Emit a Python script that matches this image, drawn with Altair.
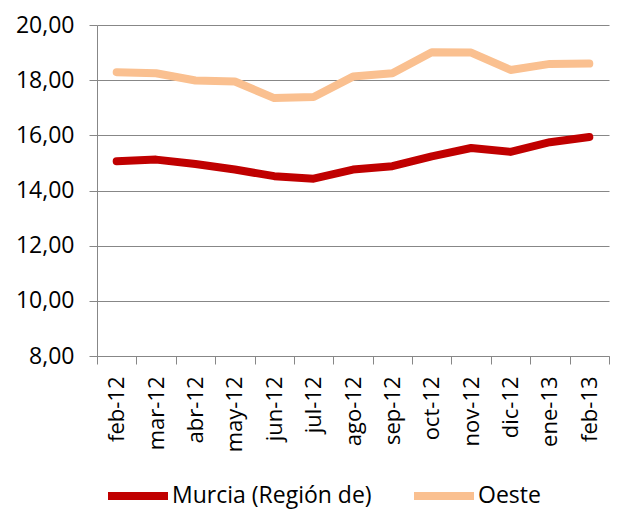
import altair as alt
import pandas as pd

months = ["feb-12", "mar-12", "abr-12", "may-12", "jun-12", "jul-12", "ago-12",
          "sep-12", "oct-12", "nov-12", "dic-12", "ene-13", "feb-13"]
murcia = [15.06, 15.12, 14.96, 14.76, 14.52, 14.43, 14.76, 14.88, 15.24, 15.54, 15.40, 15.75, 15.94]
oeste = [18.29, 18.25, 17.99, 17.95, 17.35, 17.39, 18.13, 18.25, 19.01, 19.00, 18.37, 18.59, 18.60]
series = ["Murcia (Región de)", "Oeste"]
colors = ["#C00000", "#FAC090"]

rows = []
for i, m in enumerate(months):
    rows.append({"mes": m, "serie": series[0], "valor": murcia[i], "orden": i})
    rows.append({"mes": m, "serie": series[1], "valor": oeste[i], "orden": i})
df = pd.DataFrame(rows)

FONT = "Open Sans"
GRID = "#878787"
FS = 23

chart = alt.Chart(df).mark_line(strokeWidth=8, strokeCap="round", strokeJoin="round").encode(
    x=alt.X("mes:N", sort=months,
            scale=alt.Scale(type="band", paddingInner=0, paddingOuter=0),
            axis=alt.Axis(title=None, labelAngle=-90, labelAlign="right", labelBaseline="middle",
                          tickBand="extent", tickSize=8, tickColor=GRID, domainColor=GRID,
                          labelPadding=12, labelFont=FONT, labelFontSize=FS - 1, labelColor="#000000",
                          grid=False)),
    y=alt.Y("valor:Q", scale=alt.Scale(domain=[8, 20], nice=False, zero=False),
            axis=alt.Axis(title=None, values=[8, 10, 12, 14, 16, 18, 20],
                          labelExpr="replace(format(datum.value, '.2f'), '.', ',')",
                          tickSize=8, tickColor=GRID, domainColor=GRID, gridColor=GRID,
                          gridOpacity=1, labelPadding=15, labelFont=FONT, labelFontSize=FS,
                          labelColor="#000000")),
    color=alt.Color("serie:N", sort=series,
                    scale=alt.Scale(domain=series, range=colors),
                    legend=alt.Legend(title=None, orient="none", legendX=7, legendY=437,
                                      direction="horizontal", symbolType="stroke",
                                      symbolSize=3600, symbolStrokeWidth=8,
                                      labelFont=FONT, labelFontSize=FS, labelColor="#000000",
                                      labelLimit=400, labelOffset=0, columnPadding=26)),
    detail="serie:N",
    order="orden:Q",
).properties(
    width=512, height=331,
    autosize=alt.AutoSizeParams(type="none"),
    padding={"left": 89, "top": 17, "right": 4, "bottom": 153},
).configure_view(stroke=None)

chart.save("out.html", embed_options={"renderer": "svg", "actions": False})
